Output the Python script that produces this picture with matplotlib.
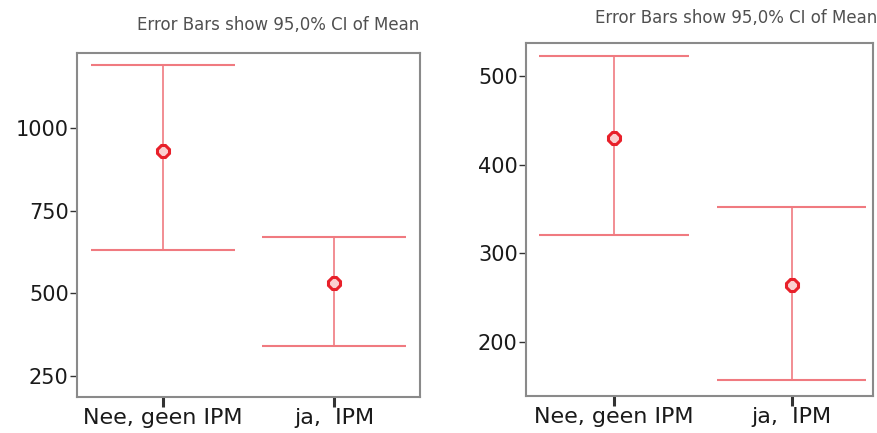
import matplotlib
matplotlib.use("Agg")
import matplotlib.pyplot as plt

categories = ["Nee, geen IPM", "ja,  IPM"]
left_mean = [931, 532]
left_low = [630, 339]
left_high = [1191, 671]
right_mean = [430, 264]
right_low = [320, 157]
right_high = [522, 352]
left_ticks = [250, 500, 750, 1000]
right_ticks = [200, 300, 400, 500]
note = "Error Bars show 95,0% CI of Mean"

W, H = 877, 433
fig = plt.figure(figsize=(W / 100, H / 100), dpi=100)
plt.rcParams['font.family'] = ['DejaVu Sans']

line_c = '#F07a80'
edge_c = '#E8202A'
frame_c = '#8a8a8a'

def make_ax(px, ylim, xlim, ticks, mean, low, high):
    x0, y0, x1, y1 = px
    ax = fig.add_axes([x0 / W, (H - y1) / H, (x1 - x0) / W, (y1 - y0) / H])
    xs = list(range(len(mean)))
    for i in xs:
        ax.vlines(i, low[i], high[i], color=line_c, lw=1.2)
        ax.hlines([low[i], high[i]], i - 0.42, i + 0.42, color=line_c, lw=1.5)
    ax.plot(xs, mean, ls='none', marker='8', ms=9, mfc='#fbd0d0', mec=edge_c, mew=2.2)
    ax.set_xlim(*xlim)
    ax.set_ylim(*ylim)
    ax.set_yticks(ticks)
    ax.set_xticks(xs)
    ax.set_xticklabels(categories)
    for s in ax.spines.values():
        s.set_color(frame_c)
        s.set_linewidth(1.5)
    ax.tick_params(axis='y', direction='out', length=5, width=1, color='#333333',
                   labelsize=15, labelcolor='#1a1a1a', pad=1)
    ax.tick_params(axis='x', direction='out', length=7, width=2.2, color='#333333',
                   labelsize=16, labelcolor='#1a1a1a', pad=1)
    return ax

make_ax((77, 53, 420, 397), (186, 1227), (-0.503, 1.503), left_ticks,
        left_mean, left_low, left_high)
make_ax((526, 43, 873, 396), (139, 537), (-0.495, 1.458), right_ticks,
        right_mean, right_low, right_high)

fig.text(419 / W, 1 - 25 / H, note, ha='right', va='center', fontsize=12, color='#505050')
fig.text(877 / W, 1 - 18 / H, note, ha='right', va='center', fontsize=12, color='#505050')

fig.savefig("out.png", dpi=100)
